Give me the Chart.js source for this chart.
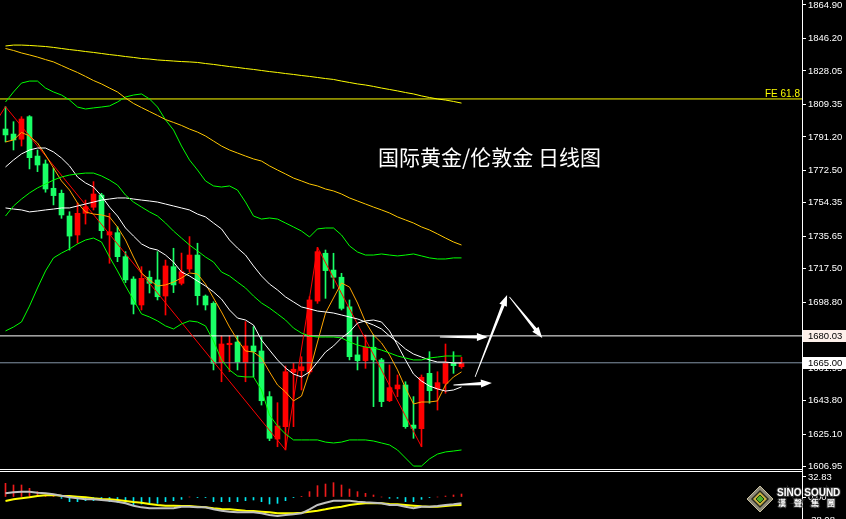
<!DOCTYPE html>
<html>
<head>
<meta charset="utf-8">
<script src="https://cdn.jsdelivr.net/npm/chart.js@4.4.0/dist/chart.umd.min.js"></script>
<style>
html, body { margin: 0; padding: 0; background: #000; overflow: hidden; }
#wrap { position: relative; width: 846px; height: 519px; overflow: hidden; background: #000; }
#wrap canvas { position: absolute; left: 0; }
.hl { position: absolute; left: 0; width: 802px; height: 1px; background: #fff; }
</style>
</head>
<body>
<div id="wrap">
  <canvas id="main" width="846" height="469" style="top:0"></canvas>
  <div class="hl" style="top:469px"></div>
  <div class="hl" style="top:471px"></div>
  <div style="position:absolute;left:802px;top:469px;width:1px;height:3px;background:#fff"></div>
  <canvas id="sub" width="846" height="50" style="top:472px"></canvas>
</div>
<script>
// daily candles, gold / london gold
var opens  = [1795.6, 1792.8, 1789.9, 1802.5, 1780.5, 1776.1, 1762.5, 1759.7, 1747.0, 1736.4,
              1748.5, 1751.9, 1758.7, 1736.4, 1737.7, 1724.3, 1711.8, 1697.3, 1712.8, 1711.3,
              1702.3, 1718.7, 1709.4, 1717.4, 1725.2, 1702.3, 1698.2, 1665.1, 1675.1, 1676.6,
              1665.1, 1674.4, 1671.6, 1646.1, 1622.4, 1629.3, 1659.7, 1660.6, 1659.9, 1699.5,
              1726.2, 1716.8, 1712.8, 1696.3, 1669.4, 1666.2, 1673.7, 1666.6, 1643.8, 1650.4,
              1652.6, 1630.2, 1628.2, 1659.1, 1650.4, 1653.5, 1665.1, 1662.8];
var highs  = [1808.1, 1799.7, 1802.5, 1803.1, 1783.9, 1778.3, 1773.7, 1761.5, 1749.4, 1754.3,
              1755.9, 1766.2, 1759.7, 1748.5, 1741.0, 1727.1, 1713.1, 1718.7, 1716.3, 1727.1,
              1722.4, 1729.0, 1726.3, 1735.5, 1731.8, 1702.9, 1699.1, 1680.0, 1680.0, 1680.0,
              1688.0, 1685.2, 1679.6, 1648.9, 1642.7, 1663.2, 1664.7, 1668.4, 1701.9, 1729.5,
              1728.0, 1726.2, 1715.0, 1700.1, 1679.6, 1680.5, 1680.5, 1667.5, 1663.8, 1658.2,
              1654.4, 1646.1, 1658.2, 1671.2, 1660.0, 1675.5, 1671.2, 1668.1];
var lows   = [1788.4, 1783.9, 1786.1, 1773.3, 1771.8, 1760.3, 1753.2, 1745.7, 1728.0, 1731.8,
              1742.5, 1750.4, 1734.6, 1720.6, 1721.5, 1709.8, 1692.3, 1694.5, 1704.0, 1700.1,
              1691.7, 1704.2, 1708.5, 1715.9, 1697.3, 1694.5, 1661.0, 1654.4, 1660.0, 1661.0,
              1654.4, 1657.2, 1641.4, 1621.5, 1618.1, 1616.3, 1629.3, 1649.8, 1658.7, 1698.2,
              1701.0, 1706.6, 1694.5, 1666.6, 1661.0, 1661.9, 1640.5, 1640.5, 1643.3, 1646.1,
              1628.4, 1622.8, 1618.1, 1642.4, 1638.6, 1648.0, 1659.1, 1661.9];
var closes = [1792.3, 1789.5, 1801.2, 1779.6, 1775.5, 1762.1, 1758.4, 1747.6, 1735.8, 1748.5,
              1752.2, 1759.3, 1738.8, 1738.2, 1724.3, 1711.3, 1697.7, 1712.2, 1709.4, 1701.9,
              1719.1, 1708.5, 1715.9, 1725.2, 1702.5, 1697.3, 1664.7, 1675.5, 1675.9, 1665.4,
              1674.4, 1671.2, 1643.8, 1622.8, 1629.7, 1660.0, 1661.4, 1662.8, 1700.1, 1727.1,
              1716.5, 1712.8, 1695.4, 1668.4, 1666.2, 1673.7, 1666.6, 1643.3, 1651.1, 1652.6,
              1629.3, 1628.4, 1656.9, 1649.4, 1653.9, 1665.1, 1663.4, 1665.0];

// moving averages
var maFast = [1788.4, 1789.5, 1793.7, 1791.7, 1787.8, 1781.1, 1773.8, 1766.6, 1761.5, 1754.3,
              1749.3, 1748.1, 1747.6, 1746.5, 1740.9, 1733.6, 1724.1, 1715.2, 1711.3, 1707.9,
              1708.5, 1710.1, 1712.4, 1715.2, 1714.6, 1709.0, 1701.2, 1693.4, 1685.0, 1677.7,
              1671.6, 1671.0, 1667.7, 1659.9, 1652.6, 1648.7, 1643.7, 1646.4, 1659.9, 1676.6,
              1692.8, 1701.2, 1709.6, 1707.3, 1698.4, 1687.8, 1680.5, 1676.1, 1669.4, 1661.0,
              1650.9, 1642.0, 1643.1, 1643.1, 1643.7, 1652.6, 1657.1, 1659.9];
var maMid  = [1774.4, 1778.3, 1781.7, 1783.9, 1785.0, 1785.0, 1782.8, 1779.4, 1775.0, 1768.8,
              1765.5, 1763.2, 1758.2, 1752.0, 1747.0, 1740.3, 1735.8, 1731.4, 1729.1, 1728.0,
              1725.2, 1721.3, 1715.7, 1713.5, 1710.7, 1707.9, 1704.6, 1700.6, 1694.5, 1690.0,
              1688.9, 1686.1, 1677.7, 1672.1, 1666.6, 1662.1, 1658.7, 1657.1, 1659.9, 1665.4,
              1671.0, 1674.4, 1678.9, 1682.2, 1687.2, 1688.4, 1688.9, 1687.8, 1682.8, 1674.9,
              1666.6, 1658.7, 1654.8, 1652.0, 1650.4, 1649.2, 1649.8, 1651.5];
var maSlow = [1751.5, 1750.9, 1750.4, 1749.3, 1749.8, 1750.4, 1750.9, 1751.5, 1751.5, 1752.6,
              1753.7, 1754.8, 1755.9, 1756.5, 1757.1, 1757.1, 1756.5, 1755.9, 1755.4, 1754.8,
              1753.7, 1752.6, 1751.5, 1750.4, 1748.1, 1746.5, 1743.1, 1739.8, 1733.6, 1729.1,
              1725.2, 1719.1, 1713.5, 1709.0, 1705.7, 1701.8, 1699.0, 1696.2, 1695.1, 1693.9,
              1693.4, 1692.8, 1691.7, 1690.6, 1689.5, 1687.8, 1686.1, 1683.9, 1680.0, 1676.6,
              1672.7, 1669.9, 1668.2, 1666.6, 1665.4, 1665.4, 1664.9, 1664.9];
var ma100  = [1840.6, 1839.5, 1838.1, 1837.0, 1835.8, 1834.4, 1833.1, 1831.1, 1829.1, 1827.2,
              1825.0, 1822.7, 1820.8, 1818.5, 1816.3, 1812.9, 1809.9, 1807.6, 1805.4, 1803.2,
              1800.9, 1799.3, 1797.6, 1795.6, 1793.9, 1791.7, 1788.9, 1786.1, 1783.9, 1782.2,
              1780.5, 1778.9, 1777.7, 1775.0, 1772.7, 1770.5, 1768.2, 1766.6, 1764.9, 1763.8,
              1762.1, 1761.0, 1759.3, 1757.1, 1755.4, 1753.7, 1752.0, 1750.4, 1748.7, 1746.5,
              1744.8, 1743.1, 1740.9, 1739.2, 1737.0, 1734.7, 1732.5, 1730.8];
var ma200  = [1842.0, 1842.5, 1842.5, 1842.3, 1842.0, 1841.7, 1841.2, 1840.6, 1840.0, 1839.5,
              1838.9, 1838.4, 1837.8, 1837.2, 1836.7, 1836.1, 1835.6, 1835.0, 1834.7, 1834.2,
              1833.9, 1833.6, 1833.3, 1833.1, 1832.8, 1832.2, 1831.7, 1831.1, 1830.5, 1830.0,
              1829.4, 1828.9, 1828.3, 1827.7, 1827.2, 1826.6, 1826.1, 1825.5, 1825.0, 1824.4,
              1823.8, 1823.3, 1822.4, 1821.6, 1820.8, 1820.2, 1819.4, 1818.5, 1817.7, 1816.9,
              1816.0, 1815.2, 1814.1, 1813.2, 1812.4, 1811.8, 1811.0, 1810.1];

// bollinger bands
var bbUpper = [1810.7, 1816.3, 1821.3, 1822.4, 1822.4, 1818.5, 1816.3, 1814.6, 1811.8, 1807.9,
               1806.8, 1807.4, 1807.9, 1808.5, 1810.7, 1813.5, 1814.6, 1815.2, 1812.4, 1807.9,
               1800.7, 1795.1, 1786.1, 1778.3, 1772.7, 1766.6, 1763.8, 1763.2, 1763.8, 1761.5,
               1754.8, 1747.0, 1745.3, 1745.9, 1745.3, 1743.1, 1740.9, 1738.6, 1735.3, 1739.8,
               1740.3, 1740.3, 1736.4, 1730.3, 1726.9, 1725.2, 1725.2, 1725.8, 1725.2, 1724.7,
               1725.2, 1725.8, 1724.7, 1723.6, 1723.0, 1723.0, 1723.6, 1723.6];
var bbMiddle = [1747.0, 1752.6, 1756.5, 1759.9, 1762.7, 1764.9, 1767.1, 1768.8, 1769.9, 1770.5,
               1771.0, 1771.0, 1769.4, 1767.1, 1764.3, 1758.7, 1754.8, 1752.0, 1749.3, 1747.0,
               1743.1, 1738.6, 1734.7, 1730.8, 1727.5, 1724.1, 1721.3, 1715.7, 1713.5, 1710.1,
               1706.8, 1702.3, 1698.4, 1695.6, 1692.3, 1688.9, 1684.4, 1681.6, 1680.0, 1679.4,
               1679.4, 1679.4, 1678.9, 1676.6, 1674.9, 1673.8, 1673.3, 1672.1, 1670.5, 1668.8,
               1667.7, 1666.6, 1666.6, 1667.7, 1668.2, 1668.8, 1668.8, 1668.8];
var bbLower = [1682.8, 1685.0, 1687.8, 1696.7, 1706.8, 1716.3, 1723.6, 1726.3, 1728.6, 1731.4,
               1733.6, 1734.7, 1732.5, 1724.1, 1716.3, 1707.9, 1700.1, 1692.3, 1690.6, 1688.4,
               1685.6, 1683.9, 1686.7, 1688.4, 1687.8, 1685.6, 1677.2, 1666.6, 1661.0, 1657.6,
               1657.1, 1657.1, 1649.8, 1635.8, 1629.7, 1625.2, 1621.9, 1621.9, 1621.9, 1621.9,
               1620.7, 1620.2, 1620.7, 1621.9, 1621.9, 1621.9, 1621.3, 1620.2, 1619.1, 1616.3,
               1611.8, 1607.3, 1607.3, 1611.3, 1614.0, 1615.2, 1615.7, 1616.3];

// zigzag turning points [index, price]
var zigzag = [[-1, 1801.1], [0, 1808.1], [35, 1616.3], [39, 1729.5], [52, 1618.1]];

// levels
var feLevel = 1812.4;
var resLevel = 1680.03;
var bidLevel = 1665.00;
var priceTicks = [1864.90, 1846.20, 1828.05, 1809.35, 1791.20, 1772.50, 1754.35, 1735.65,
                  1717.50, 1698.80, 1680.10, 1661.95, 1643.80, 1625.10, 1606.95];

// projection arrows [fromIndex, fromPrice, toIndex, toPrice]
var arrows = [[54.3, 1679.4, 60.3, 1679.4],
              [58.7, 1657.1, 62.7, 1702.9],
              [63.0, 1701.8, 67.1, 1678.9],
              [56.0, 1652.6, 60.8, 1653.7]];

// lower indicator panel
var histVals = [22.4, 19.7, 19.7, 14.2, 8.8, 3.3, 0.5, -2.2, -7.7, -7.7,
                -6.0, -6.0, -6.0, -7.7, -8.8, -8.8, -13.1, -11.5, -11.5, -10.4,
                -7.7, -6.0, -3.8, 0, -1.1, -1.1, -7.7, -7.7, -7.7, -7.7,
                -6.0, -4.9, -7.7, -11.5, -10.4, -6.0, -1.1, 0.5, 8.8, 18.6,
                21.3, 23.5, 19.7, 13.1, 8.8, 6.0, 3.3, 0, -2.2, -2.2,
                -7.7, -7.7, -3.8, -1.1, 0, 1.6, 3.3, 4.9];
var mainVals = [6.0, 7.7, 8.8, 8.8, 7.1, 6.0, 4.4, 2.2, -0.5, -2.2,
                -3.8, -3.8, -4.9, -6.0, -7.7, -10.4, -14.2, -17.0, -18.6, -18.6,
                -18.6, -18.6, -15.9, -15.9, -17.0, -17.0, -20.2, -22.4, -24.1, -25.2,
                -25.2, -25.2, -26.8, -29.5, -31.2, -29.5, -28.4, -26.8, -20.2, -13.1,
                -9.3, -6.0, -6.0, -6.0, -7.7, -8.8, -9.3, -10.4, -13.1, -13.1,
                -15.9, -18.6, -15.9, -15.9, -14.8, -13.1, -12.0, -10.4];
var signalVals = [-6.6, -3.8, -2.2, -0.5, 1.6, 2.7, 3.3, 2.2, 1.6, 0.5,
                  -0.5, -2.2, -3.3, -3.8, -4.9, -6.6, -8.2, -9.3, -11.5, -13.1,
                  -14.2, -14.2, -14.8, -14.8, -15.9, -17.0, -18.6, -19.7, -20.2, -21.3,
                  -22.4, -23.0, -24.1, -25.2, -26.8, -26.8, -26.8, -25.7, -24.1, -22.4,
                  -20.2, -17.5, -15.9, -13.1, -11.5, -10.4, -10.4, -10.4, -11.5, -12.0,
                  -13.1, -14.2, -15.3, -15.9, -15.9, -14.8, -13.7, -13.1];
var subTicks = [32.83, 0, -38.08];

var xMin = -0.6875, xMax = 99.5625;
var UP = '#ff0000', DOWN = '#19ff66';
var tickFont = { family: 'Liberation Sans', size: 9.5 };

function series(vals) {
  return vals.map(function (v, i) { return { x: i, y: v }; });
}
function line(data, color, width, order) {
  return { type: 'line', data: data, borderColor: color, borderWidth: width || 1,
           pointRadius: 0, tension: 0, fill: false, order: order || 1 };
}
function flat(v) {
  return [{ x: xMin, y: v }, { x: xMax, y: v }];
}
var candleColors = closes.map(function (c, i) { return c >= opens[i] ? UP : DOWN; });

function rightAxis(min, max, ticks) {
  return {
    position: 'right', min: min, max: max,
    afterBuildTicks: function (s) { s.ticks = ticks.map(function (v) { return { value: v }; }); },
    afterFit: function (s) { s.width = 44; s.paddingTop = 0; s.paddingBottom = 0; },
    ticks: { color: '#fff', font: tickFont, padding: 2, autoSkip: false,
             callback: function (v) { return Number(v).toFixed(2); } },
    grid: { drawOnChartArea: false, drawTicks: true, tickLength: 4, color: '#fff' },
    border: { display: true, color: '#fff' }
  };
}
var xAxis = { type: 'linear', display: false, offset: false, min: xMin, max: xMax,
              grid: { offset: false } };

function drawArrow(ctx, x1, y1, x2, y2) {
  var ang = Math.atan2(y2 - y1, x2 - x1), len = Math.hypot(x2 - x1, y2 - y1);
  ctx.save();
  ctx.translate(x1, y1);
  ctx.rotate(ang);
  ctx.beginPath();
  ctx.moveTo(0, -0.4);
  ctx.lineTo(len - 11, -1.6);
  ctx.lineTo(len - 11, -4);
  ctx.lineTo(len, 0);
  ctx.lineTo(len - 11, 4);
  ctx.lineTo(len - 11, 1.6);
  ctx.lineTo(0, 0.4);
  ctx.closePath();
  ctx.fillStyle = '#fff';
  ctx.fill();
  ctx.restore();
}

var overlay = {
  id: 'overlay',
  afterDraw: function (chart) {
    var ctx = chart.ctx, xs = chart.scales.x, ys = chart.scales.y;
    ctx.save();
    // FE label
    ctx.fillStyle = '#ffff00';
    ctx.font = '10px "Liberation Sans"';
    ctx.textAlign = 'right';
    ctx.textBaseline = 'alphabetic';
    ctx.fillText('FE 61.8', 800, ys.getPixelForValue(feLevel) - 2);
    // title
    ctx.fillStyle = '#fff';
    ctx.font = '21px "Noto Sans CJK SC"';
    ctx.textAlign = 'left';
    ctx.textBaseline = 'middle';
    ctx.fillText('国际黄金/伦敦金 日线图', 378, 157);
    // arrows
    arrows.forEach(function (a) {
      drawArrow(ctx, xs.getPixelForValue(a[0]), ys.getPixelForValue(a[1]),
                xs.getPixelForValue(a[2]), ys.getPixelForValue(a[3]));
    });
    // price boxes on the axis
    ctx.font = '9.5px "Liberation Sans"';
    [[resLevel, '#fdf0ea'], [bidLevel, '#ffffff']].forEach(function (b) {
      var y = Math.round(ys.getPixelForValue(b[0]));
      ctx.fillStyle = b[1];
      ctx.fillRect(803, y - 6, 43, 12);
      ctx.fillStyle = '#000';
      ctx.fillText(b[0].toFixed(2), 808, y);
    });
    ctx.restore();
  }
};

new Chart(document.getElementById('main'), {
  type: 'bar',
  data: {
    datasets: [
      line(series(ma200), '#ffff00', 1, 1),
      line(series(ma100), '#ffc800', 1, 1),
      line(series(bbUpper), '#00ff00', 1, 1),
      line(series(bbMiddle), '#00ff00', 1, 1),
      line(series(bbLower), '#00ff00', 1, 1),
      line(series(maSlow), '#ffffff', 1, 1),
      line(series(maMid), '#ffffff', 1, 1),
      line(series(maFast), '#ffa500', 1, 0),
      line(zigzag.map(function (p) { return { x: p[0], y: p[1] }; }), '#ff0000', 1, 0),
      line(flat(feLevel), '#ffff00', 1, 2),
      line(flat(resLevel), '#ffffff', 1, 2),
      line(flat(bidLevel), '#8494a6', 1, 2),
      { type: 'bar', order: 9, grouped: false, barThickness: 5, borderWidth: 0, borderSkipped: false,
        data: opens.map(function (o, i) { return { x: i, y: [o, closes[i]] }; }),
        backgroundColor: candleColors },
      { type: 'bar', order: 10, grouped: false, barThickness: 1, borderWidth: 0, borderSkipped: false,
        data: lows.map(function (l, i) { return { x: i, y: [l, highs[i]] }; }),
        backgroundColor: candleColors }
    ]
  },
  options: {
    responsive: false, animation: false, devicePixelRatio: 1,
    layout: { padding: 0 },
    plugins: { legend: { display: false }, tooltip: { enabled: false } },
    scales: {
      x: xAxis,
      y: rightAxis(1605.66, 1867.69, priceTicks)
    }
  },
  plugins: [overlay]
});

var logo = {
  id: 'logo',
  afterDraw: function (chart) {
    var ctx = chart.ctx, cx = 760, cy = 27;
    ctx.save();
    function diamond(r, fill, stroke) {
      ctx.beginPath();
      ctx.moveTo(cx, cy - r); ctx.lineTo(cx + r, cy); ctx.lineTo(cx, cy + r); ctx.lineTo(cx - r, cy);
      ctx.closePath();
      ctx.fillStyle = fill; ctx.fill();
      if (stroke) { ctx.strokeStyle = stroke; ctx.lineWidth = 1; ctx.stroke(); }
    }
    diamond(13, '#8c8878', '#c8c0a0');
    diamond(9, '#2a2a20', null);
    diamond(7, '#c8b040', null);
    diamond(4, '#4caf2a', '#1a3a10');
    ctx.textAlign = 'left';
    ctx.textBaseline = 'alphabetic';
    ctx.font = 'bold 10px "Liberation Sans"';
    ctx.lineWidth = 2;
    ctx.strokeStyle = '#333';
    ctx.strokeText('SINO SOUND', 777, 24);
    ctx.fillStyle = '#fff';
    ctx.fillText('SINO SOUND', 777, 24);
    ctx.font = 'bold 8px "Noto Sans CJK TC"';
    ctx.textBaseline = 'middle';
    [['漢', 778], ['聲', 794], ['集', 811], ['團', 827]].forEach(function (c) {
      ctx.strokeText(c[0], c[1], 31);
      ctx.fillText(c[0], c[1], 31);
    });
    ctx.restore();
  }
};

new Chart(document.getElementById('sub'), {
  type: 'bar',
  data: {
    datasets: [
      line(series(mainVals), '#c0c0c0', 2, 1),
      line(series(signalVals), '#ffff00', 2, 0),
      { type: 'bar', order: 5, grouped: false, barThickness: 1, borderWidth: 0,
        data: series(histVals),
        backgroundColor: histVals.map(function (v) { return v >= 0 ? '#ee1c1c' : '#00e8f0'; }) }
    ]
  },
  options: {
    responsive: false, animation: false, devicePixelRatio: 1,
    layout: { padding: 0 },
    plugins: { legend: { display: false }, tooltip: { enabled: false } },
    scales: {
      x: xAxis,
      y: rightAxis(-41, 41, subTicks)
    }
  },
  plugins: [logo]
});
</script>
</body>
</html>
